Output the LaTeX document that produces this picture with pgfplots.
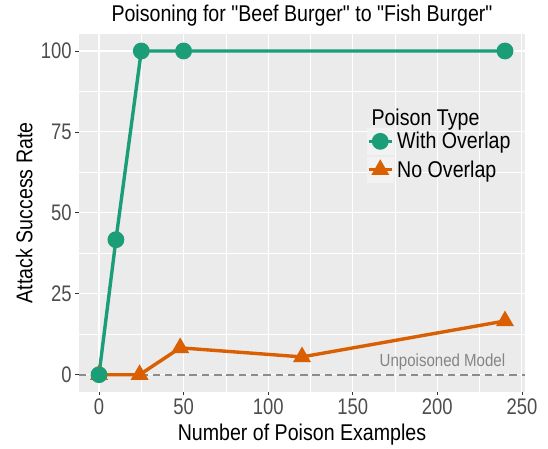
\documentclass[border=0pt]{standalone}
\usepackage{fontspec}
\setmainfont[FakeStretch=0.86, Ligatures=TeXOff]{Liberation Sans}
\newfontfamily\tickfont[FakeStretch=0.82, Ligatures=TeXOff]{Liberation Sans}
\usepackage{pgfplots}
\pgfplotsset{compat=1.18}

\definecolor{panel}{HTML}{EBEBEB}
\definecolor{keybg}{HTML}{F2F2F2}
\definecolor{dgreen}{HTML}{1B9E77}
\definecolor{dorange}{HTML}{D95F02}
\definecolor{ticktext}{HTML}{4D4D4D}
\definecolor{tickmark}{HTML}{333333}
\definecolor{refline}{HTML}{8C8C8C}
\definecolor{reftext}{HTML}{858585}

\newcommand{\bigf}{\fontsize{22.8}{25}\selectfont}

\begin{document}
\begin{tikzpicture}
\begin{axis}[
    scale only axis,
    width=446.6pt, height=357.7pt,
    xmin=-12, xmax=252,
    ymin=-5.25, ymax=105.25,
    axis background/.style={fill=panel},
    axis line style={draw=none},
    xtick={0,50,...,250},
    ytick={0,25,...,100},
    minor xtick={25,75,125,175,225},
    minor ytick={12.5,37.5,62.5,87.5},
    grid=both,
    major grid style={white, line width=1.1pt},
    minor grid style={white, line width=0.55pt},
    tick pos=left,
    tick align=outside,
    major tick length=3.5pt,
    minor tick length=0pt,
    tick style={tickmark, line width=0.8pt},
    /pgf/number format/assume math mode=true,
    ticklabel style={font=\tickfont\fontsize{22.5}{24}\selectfont, text=ticktext},
    label style={font=\bigf},
    title style={font=\bigf, yshift=-2pt},
    xlabel style={yshift=-2pt},
    ylabel style={yshift=1.5pt},
    title={Poisoning for "Beef Burger" to "Fish Burger"},
    xlabel={Number of Poison Examples},
    ylabel={Attack Success Rate},
    reverse legend,
    legend image code/.code={
        \fill[keybg] (0pt,-11.5pt) rectangle (23.5pt,11.5pt);
        \draw[mark repeat=2,mark phase=2,#1] plot coordinates {(0pt,0pt)(11.75pt,0pt)(23.5pt,0pt)};
    },
    legend style={
        draw=none, fill=none,
        at={(axis cs:158.2,67.7)}, anchor=west,
        inner sep=0pt, row sep=2pt,
        nodes={inner sep=0pt},
        font=\bigf,
        cells={anchor=west},
        /tikz/every odd column/.append style={column sep=3.5pt},
    },
]

% reference line for the clean model
\addplot[refline, line width=1.6pt, dash pattern=on 7.5pt off 4.8pt, forget plot]
    coordinates {(-12,0)(252,0)};

\addplot[dorange, line width=3.4pt, mark=triangle*, mark size=7pt,
         mark options={solid, draw=none, fill=dorange}]
    coordinates {(0,0)(24,0)(48,8.3)(120,5.5)(240,16.6)};
\addlegendentry{No Overlap}

\addplot[dgreen, line width=3.4pt, mark=*, mark size=6.7pt,
         mark options={solid, draw=none, fill=dgreen}]
    coordinates {(0,0)(10,41.7)(25,100)(50,100)(240,100)};
\addlegendentry{With Overlap}

\node[anchor=base east, font=\fontsize{17.5}{19}\selectfont, text=reftext]
    at (axis cs:242.2,2.47) {Unpoisoned Model};
\node[anchor=base west, font=\bigf] at (axis cs:159.0,77.1) {Poison Type};
\end{axis}
\pgfresetboundingbox
\path ([shift={(-78.7pt,-56.3pt)}]current axis.south west)
    rectangle ([shift={(22.7pt,34pt)}]current axis.north east);
\end{tikzpicture}
\end{document}
